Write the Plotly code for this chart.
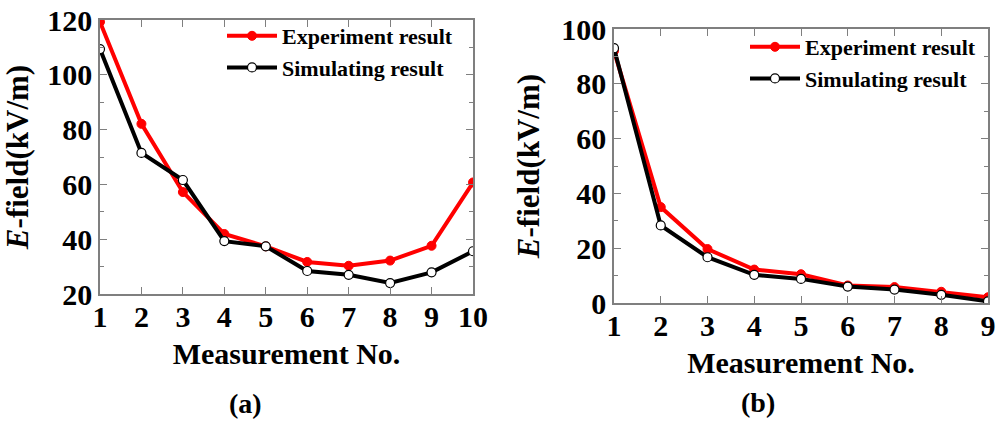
import plotly.graph_objects as go

# data
meas_a = [1, 2, 3, 4, 5, 6, 7, 8, 9, 10]
exp_a = [119.3, 82.1, 57.2, 41.9, 37.4, 31.7, 30.3, 32.2, 37.6, 60.7]
sim_a = [109.4, 71.5, 61.6, 39.3, 37.4, 28.4, 27.0, 24.0, 27.9, 35.6]

meas_b = [1, 2, 3, 4, 5, 6, 7, 8, 9]
exp_b = [92.0, 35.0, 19.7, 12.2, 10.5, 6.4, 5.8, 4.1, 2.1]
sim_b = [93.0, 28.3, 16.7, 10.3, 8.8, 6.0, 4.9, 3.0, 0.6]

FONT = "Liberation Serif"
RED = "#ff0000"
FRAME = "#7f7f7f"

W, H = 1000, 422

# pixel -> paper helpers for layout placement
def px(xp):
    return xp / W

def py(yp):
    return 1 - yp / H

fig = go.Figure()

def add_pair(x, exp, sim, xa, ya, leg):
    fig.add_trace(go.Scatter(
        x=x, y=exp, xaxis=xa, yaxis=ya, legend=leg,
        mode="lines+markers", name="Experiment result",
        line=dict(color=RED, width=4),
        marker=dict(size=9, color=RED, line=dict(color=RED, width=1))))
    fig.add_trace(go.Scatter(
        x=x, y=sim, xaxis=xa, yaxis=ya, legend=leg,
        mode="lines+markers", name="Simulating result",
        line=dict(color="black", width=4),
        marker=dict(size=9, color="white", line=dict(color="black", width=1.2))))

add_pair(meas_a, exp_a, sim_a, "x", "y", "legend")
add_pair(meas_b, exp_b, sim_b, "x2", "y2", "legend2")

tickfont = dict(family=FONT, size=30, color="black", weight="bold")
titlefont = dict(family=FONT, size=30, color="black", weight="bold")

def xaxis_style(domain, rng):
    return dict(
        domain=domain, range=rng, dtick=1, tick0=1, automargin=False,
        ticklabeloverflow="allow", ticklabelstandoff=-5,
        showline=True, linecolor=FRAME, linewidth=1.5, mirror="allticks",
        ticks="inside", ticklen=7, tickcolor=FRAME, tickwidth=1,
        showgrid=False, zeroline=False, tickfont=tickfont,
        title=dict(text="Measurement No.", font=titlefont, standoff=11))

def yaxis_style(domain, rng, anchor):
    return dict(
        domain=domain, range=rng, dtick=20, anchor=anchor, automargin=False,
        ticklabeloverflow="allow",
        showline=True, linecolor=FRAME, linewidth=1.5, mirror="allticks",
        ticks="inside", ticklen=7, tickcolor=FRAME, tickwidth=1,
        minor=dict(ticks="inside", dtick=10, ticklen=4, tickcolor=FRAME),
        showgrid=False, zeroline=False, tickfont=tickfont,
        title=dict(text="<i>E</i>-field(kV/m)", font=dict(family=FONT, size=31, color="black", weight="bold"), standoff=12))

legfont = dict(family=FONT, size=22, color="black", weight="bold")
labfont = dict(family=FONT, size=28, color="black", weight="bold")

fig.update_layout(
    width=W, height=H,
    margin=dict(l=0, r=0, t=0, b=0),
    paper_bgcolor="white", plot_bgcolor="white",
    showlegend=True,
    xaxis=xaxis_style([px(100), px(473)], [1, 10]),
    yaxis=yaxis_style([py(294), py(20)], [20, 120], "x"),
    xaxis2=dict(xaxis_style([px(614), px(988)], [1, 9]), anchor="y2"),
    yaxis2=yaxis_style([py(303), py(29)], [0, 100], "x2"),
    legend=dict(x=px(222), y=py(15), xanchor="left", yanchor="top",
                bgcolor="rgba(0,0,0,0)", font=legfont, tracegroupgap=0,
                itemwidth=50),
    legend2=dict(x=px(745), y=py(26), xanchor="left", yanchor="top",
                 bgcolor="rgba(0,0,0,0)", font=legfont, tracegroupgap=0,
                 itemwidth=50),
    annotations=[
        dict(text="(<b>a</b>)", x=px(245), y=py(403), xref="paper", yref="paper",
             xanchor="center", yanchor="middle", showarrow=False, font=labfont),
        dict(text="(<b>b</b>)", x=px(758), y=py(402), xref="paper", yref="paper",
             xanchor="center", yanchor="middle", showarrow=False, font=labfont),
    ],
)

# drop the default body margin so the figure fills the window exactly
fig.write_html("out.html", config={"displayModeBar": False},
               post_script="document.body.style.margin='0';")
